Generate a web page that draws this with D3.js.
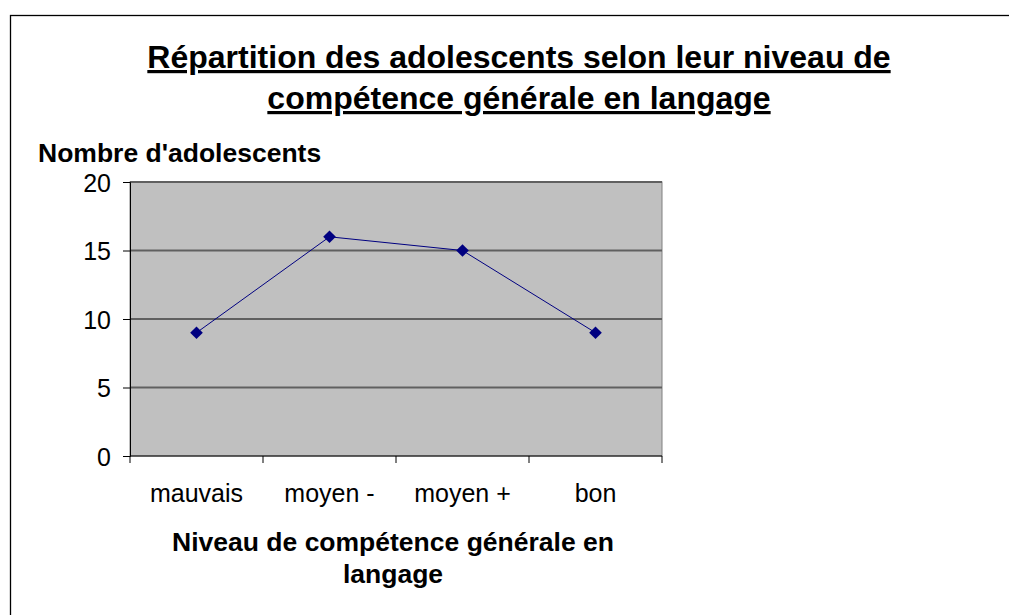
<!DOCTYPE html>
<html>
<head>
<meta charset="utf-8">
<script src="https://cdn.jsdelivr.net/npm/d3@7"></script>
<style>
  body { margin: 0; background: #fff; }
  svg { display: block; font-family: "Liberation Sans", Arial, sans-serif; }
</style>
</head>
<body>
<svg id="chart" width="1009" height="615"></svg>
<script>
// Data
const categories = ['mauvais', 'moyen -', 'moyen +', 'bon'];
const values = [9, 16, 15, 9];
const yTicks = [0, 5, 10, 15, 20];

const titleLines = ['Répartition des adolescents selon leur niveau de', 'compétence générale en langage'];
const xTitleLines = ['Niveau de compétence générale en', 'langage'];
const yTitle = "Nombre d'adolescents";

// Layout
const plot = { left: 130, right: 662, top: 182, bottom: 456 };

const svg = d3.select('#chart');

// outer frame
svg.append('rect')
  .attr('x', 10.5).attr('y', 15.5)
  .attr('width', 1010).attr('height', 620)
  .attr('fill', 'none').attr('stroke', '#000').attr('stroke-width', 1.3);

// Scales
const xScale = d3.scaleBand()
  .domain(categories)
  .range([plot.left, plot.right]);

const yScale = d3.scaleLinear()
  .domain([0, 20])
  .range([plot.bottom, plot.top]);

// plot area background
svg.append('rect')
  .attr('x', plot.left).attr('y', plot.top)
  .attr('width', plot.right - plot.left).attr('height', plot.bottom - plot.top)
  .attr('fill', '#c0c0c0')
  .attr('stroke', '#808080');

// gridlines
svg.selectAll('.grid')
  .data(yTicks.filter(d => d > 0))
  .enter()
  .append('line')
  .attr('x1', plot.left).attr('x2', plot.right)
  .attr('y1', d => yScale(d)).attr('y2', d => yScale(d))
  .attr('stroke', '#606060').attr('stroke-width', 2);

// Y axis
const yAxis = d3.axisLeft(yScale).tickValues(yTicks).tickSize(7).tickPadding(12);
const yAxisGroup = svg.append('g')
  .attr('transform', `translate(${plot.left},0)`)
  .call(yAxis);
yAxisGroup.select('.domain').attr('stroke', '#000');
yAxisGroup.selectAll('text')
  .attr('font-size', 25).attr('font-family', '"Liberation Sans", Arial, sans-serif')
  .attr('fill', '#000')
  .attr('dy', '0.36em');

// X axis - ticks on band boundaries
const xAxisGroup = svg.append('g')
  .attr('transform', `translate(0,${plot.bottom})`);
xAxisGroup.append('line')
  .attr('x1', plot.left).attr('x2', plot.right)
  .attr('stroke', '#000');
const bounds = categories.map(c => xScale(c)).concat([plot.right]);
xAxisGroup.selectAll('.tick')
  .data(bounds)
  .enter()
  .append('line')
  .attr('x1', d => d).attr('x2', d => d)
  .attr('y1', 0).attr('y2', 7)
  .attr('stroke', '#000');
xAxisGroup.selectAll('.lbl')
  .data(categories)
  .enter()
  .append('text')
  .attr('x', d => xScale(d) + xScale.bandwidth() / 2)
  .attr('y', 46)
  .attr('text-anchor', 'middle')
  .attr('font-size', 25)
  .text(d => d);

// Line
const pts = categories.map((c, i) => ({ cat: c, val: values[i] }));
const line = d3.line()
  .x(d => xScale(d.cat) + xScale.bandwidth() / 2)
  .y(d => yScale(d.val));

svg.append('path')
  .datum(pts)
  .attr('d', line)
  .attr('fill', 'none')
  .attr('stroke', '#000080')
  .attr('stroke-width', 1);

svg.selectAll('.marker')
  .data(pts)
  .enter()
  .append('path')
  .attr('d', d3.symbol().type(d3.symbolSquare).size(80))
  .attr('transform', d => `translate(${xScale(d.cat) + xScale.bandwidth() / 2},${yScale(d.val)}) rotate(45)`)
  .attr('fill', '#000080');

// Titles
svg.selectAll('.title')
  .data(titleLines)
  .enter()
  .append('text')
  .attr('x', 519)
  .attr('y', (d, i) => 68 + i * 41)
  .attr('text-anchor', 'middle')
  .attr('font-size', 32)
  .attr('font-weight', 'bold')
  .attr('text-decoration', 'underline')
  .text(d => d);

svg.append('text')
  .attr('x', 38).attr('y', 162)
  .attr('font-size', 26.5).attr('font-weight', 'bold')
  .text(yTitle);

svg.selectAll('.xtitle')
  .data(xTitleLines)
  .enter()
  .append('text')
  .attr('x', 393)
  .attr('y', (d, i) => 551 + i * 32)
  .attr('text-anchor', 'middle')
  .attr('font-size', 26.5)
  .attr('font-weight', 'bold')
  .text(d => d);
</script>
</body>
</html>
